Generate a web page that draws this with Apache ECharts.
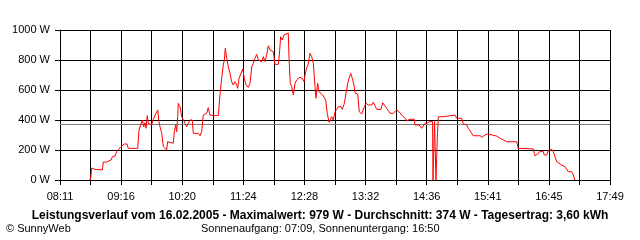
<!DOCTYPE html>
<html><head><meta charset="utf-8">
<script src="https://cdn.jsdelivr.net/npm/echarts@6/dist/echarts.min.js"></script>
<style>html,body{margin:0;padding:0;background:#fff}#c{width:640px;height:240px}</style>
</head><body><div id="c"></div>
<script>
// ---- data ----
const xTickLabels = ['08:11','09:16','10:20','11:24','12:28','13:32','14:36','15:41','16:45','17:49'];
const xStartMin = 491;   // 08:11
const xEndMin = 1069;    // 17:49
const yMax = 1000;
const yStep = 200;
const averageW = 374;
const titleText = 'Leistungsverlauf vom 16.02.2005 - Maximalwert: 979 W - Durchschnitt: 374 W - Tagesertrag: 3,60 kWh';
const footerLeft = '\u00A9 SunnyWeb';
const footerCenter = 'Sonnenaufgang: 07:09, Sonnenuntergang: 16:50';

// time in minutes since midnight
const timeMin = [522.5,523.4,524.3,526.0,527.8,529.6,535.5,536.5,540.1,541.8,544.6,546.0,548.8,550.6,552.3,555.1,556.5,558.6,561.4,562.8,572.7,574.0,576.1,577.5,579.0,580.3,581.4,582.7,583.8,585.9,587.4,588.4,590.1,591.9,593.7,595.0,596.1,597.9,599.6,601.3,603.1,604.1,605.5,610.1,611.1,612.6,613.6,614.7,615.3,617.1,618.9,620.6,622.4,624.1,625.8,627.6,630.0,631.1,632.9,636.3,638.1,639.9,641.6,643.4,645.2,646.8,648.6,650.4,652.1,657.4,659.1,660.9,662.6,663.7,664.7,666.2,667.9,669.7,671.4,673.1,674.9,676.7,677.7,679.1,681.2,683.0,684.7,686.5,688.9,690.7,692.5,694.1,695.9,697.7,699.4,701.2,703.0,704.7,706.4,708.2,709.9,711.7,713.5,715.2,716.9,720.4,721.5,722.9,724.6,726.4,728.2,730.9,731.7,733.0,734.5,736.2,738.0,739.7,743.2,745.6,747.4,748.5,750.3,751.9,753.7,755.5,757.2,759.0,760.0,761.8,763.2,765.3,767.1,768.8,770.2,771.9,773.7,774.7,776.5,778.2,780.0,781.8,783.5,786.3,787.7,789.8,791.6,793.4,794.7,796.5,798.2,800.0,801.0,803.9,805.5,808.1,809.7,810.8,812.6,815.0,816.8,818.6,820.3,823.8,828.3,830.1,831.8,834.3,836.0,837.8,839.6,841.3,843.1,844.8,847.3,850.1,853.6,855.3,857.0,858.8,863.3,864.1,868.3,871.1,872.8,874.6,877.4,879.8,882.5,883.0,884.0,884.6,885.6,886.1,887.2,887.7,888.6,893.8,894.9,906.1,907.9,913.2,914.8,918.4,920.1,923.7,925.3,932.4,934.8,937.6,940.5,941.8,945.3,947.4,949.9,953.4,956.9,960.4,971.0,972.6,974.4,988.4,989.4,990.2,992.0,995.4,998.9,999.9,1002.5,1004.2,1007.7,1009.4,1011.2,1013.0,1014.6,1018.2,1021.7,1023.5,1025.2,1028.8,1030.5,1032.2];
const powerW = [0,20,80,85,71,67,67,120,120,129,133,155,160,189,200,222,231,240,240,211,211,333,345,400,355,382,345,429,378,389,367,395,389,445,467,389,355,311,222,211,200,255,245,245,322,367,322,422,511,489,422,411,378,355,378,400,400,311,322,311,295,322,433,422,445,482,433,422,429,429,567,678,767,800,878,811,755,711,655,633,655,633,611,678,711,740,678,633,618,645,755,778,811,838,800,811,789,822,789,833,895,867,878,855,771,771,833,955,933,967,979,979,811,645,622,567,645,667,685,678,655,700,749,771,845,822,778,622,545,645,589,589,567,578,533,445,385,389,422,400,455,471,489,489,471,511,578,645,678,711,678,633,582,573,455,440,427,489,511,500,511,500,518,471,471,515,507,478,462,445,433,445,445,467,455,433,411,395,405,405,405,367,367,345,355,378,382,389,389,0,0,389,389,0,0,311,422,422,433,433,411,411,373,367,345,311,295,295,285,300,307,300,300,293,293,278,267,255,255,211,207,207,178,160,173,189,189,167,167,195,205,189,155,122,111,100,89,78,55,55,33,0];

// ---- chart ----
const FONT = "'Liberation Sans', Arial, sans-serif";
const xStep = (xEndMin - xStartMin) / 18;
const seriesData = timeMin.map((t, i) => [t, powerW[i]]);

const chart = echarts.init(document.getElementById('c'), null, {renderer: 'canvas'});
chart.setOption({
  animation: false,
  backgroundColor: '#ffffff',
  grid: {left: 60, top: 30, right: 30, bottom: 60, containLabel: false},
  xAxis: {
    type: 'value', min: xStartMin, max: xEndMin, interval: xStep,
    axisLine: {show: true, lineStyle: {color: '#000', width: 1}},
    axisTick: {show: true, length: 5, inside: false, lineStyle: {color: '#000', width: 1}},
    splitLine: {show: true, lineStyle: {color: '#000', width: 1}},
    axisLabel: {
      show: true, margin: 11, color: '#000', fontFamily: FONT, fontSize: 11,
      showMinLabel: true, showMaxLabel: true, hideOverlap: false,
      formatter: function (v) {
        const k = Math.round((v - xStartMin) / xStep);
        return (k % 2 === 0) ? (xTickLabels[k / 2] || '') : '';
      }
    }
  },
  yAxis: {
    type: 'value', min: 0, max: yMax, interval: yStep,
    axisLine: {show: true, lineStyle: {color: '#000', width: 1}},
    axisTick: {show: true, length: 5, inside: false, lineStyle: {color: '#000', width: 1}},
    splitLine: {show: true, lineStyle: {color: '#000', width: 1}},
    axisLabel: {show: true, margin: 10, color: '#000', fontFamily: FONT, fontSize: 11,
      formatter: function (v) { return Math.round(v) + ' W'; }}
  },
  series: [{
    type: 'line', data: seriesData, showSymbol: false, symbol: 'none',
    lineStyle: {color: '#ff0000', width: 1}, z: 5,
    markLine: {
      silent: true, symbol: 'none', label: {show: false},
      lineStyle: {color: '#808080', width: 1, type: 'solid'},
      data: [{yAxis: averageW}], z: 3
    }
  }],
  graphic: [
    {type: 'text', left: 'center', top: 210, style: {text: titleText, fill: '#000', font: 'bold 12px ' + FONT}},
    {type: 'text', left: 6, top: 223, style: {text: footerLeft, fill: '#000', font: '11px ' + FONT}},
    {type: 'text', left: 201, top: 223, style: {text: footerCenter, fill: '#000', font: '11px ' + FONT}}
  ]
});
</script>
</body></html>
